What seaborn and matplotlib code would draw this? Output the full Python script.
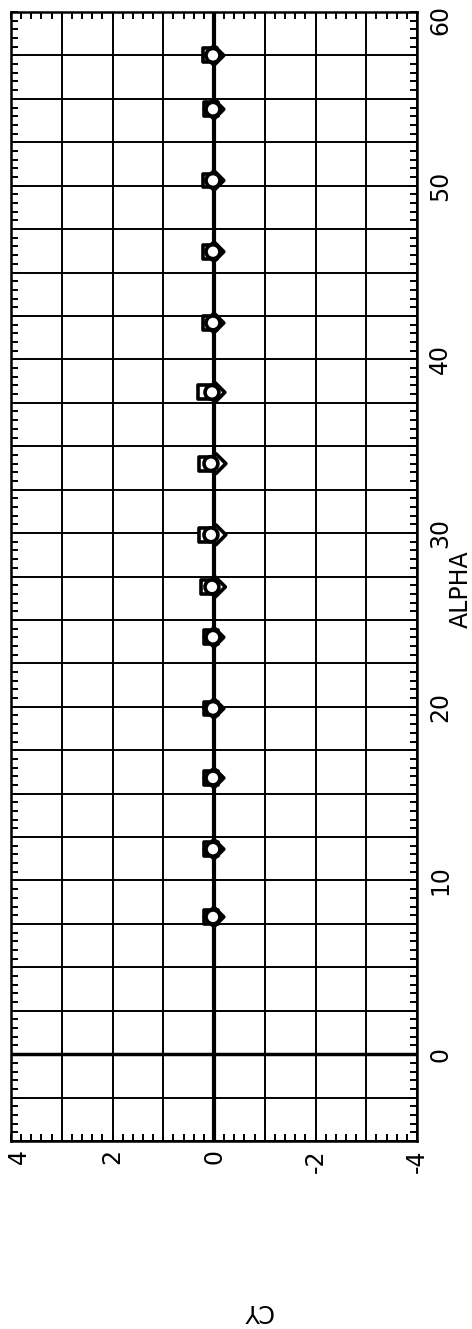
import matplotlib
matplotlib.use('Agg')
import matplotlib.pyplot as plt
import pandas as pd
import seaborn as sns
from matplotlib.ticker import MultipleLocator, FuncFormatter
from matplotlib.transforms import ScaledTranslation

alpha = [7.9, 11.8, 15.9, 19.9, 24.0, 26.9, 29.9, 34.0, 38.1, 42.1, 46.2, 50.3, 54.4, 57.5]
cy_square = [0.06, 0.06, 0.06, 0.06, 0.06, 0.12, 0.16, 0.16, 0.17, 0.08, 0.08, 0.08, 0.06, 0.08]
cy_circle = [0.02, 0.02, 0.02, 0.02, 0.02, 0.04, 0.06, 0.06, 0.04, 0.02, 0.02, 0.02, 0.02, 0.02]
cy_diamond = [0.0, 0.0, 0.0, 0.0, 0.0, -0.03, -0.04, -0.04, -0.02, 0.0, 0.0, 0.0, 0.0, 0.0]

df = pd.concat([
    pd.DataFrame({'ALPHA': alpha, 'CY': cy_diamond, 'series': 'diamond'}),
    pd.DataFrame({'ALPHA': alpha, 'CY': cy_square, 'series': 'square'}),
    pd.DataFrame({'ALPHA': alpha, 'CY': cy_circle, 'series': 'circle'}),
])

sns.set_style('white')
plt.rcParams['font.family'] = ['DejaVu Sans']
plt.rcParams['axes.unicode_minus'] = False
plt.rcParams['text.color'] = 'black'

fig = plt.figure(figsize=(4.72, 13.29), dpi=100)
ax = fig.add_axes([11 / 472, 1 - 1141 / 1329, 406 / 472, 1129 / 1329])

# zero lines (plot is drawn turned on its side)
ax.axvline(0, color='black', lw=3, zorder=2)
ax.axhline(0, color='black', lw=2.5, zorder=2)

sns.scatterplot(data=df, x='CY', y='ALPHA', style='series',
                markers={'square': 's', 'circle': 'o', 'diamond': 'D'},
                color='white', edgecolor='black', linewidth=2.6, s=100,
                legend=False, zorder=3, ax=ax)

ax.set_xlim(4, -4)
ax.set_ylim(-5, 60)
ax.set_xlabel('')
ax.set_ylabel('')

ax.xaxis.set_major_locator(MultipleLocator(1))
ax.xaxis.set_minor_locator(MultipleLocator(0.2))
ax.yaxis.set_major_locator(MultipleLocator(2.5))
ax.yaxis.set_minor_locator(MultipleLocator(0.5))
ax.xaxis.set_major_formatter(FuncFormatter(lambda v, p: '%d' % round(v) if round(v) % 2 == 0 else ''))
ax.yaxis.set_major_formatter(FuncFormatter(lambda v, p: '%d' % round(v) if abs(v % 10) < 1e-6 else ''))

ax.grid(True, which='major', color='black', lw=1.4, zorder=1)
for s in ax.spines.values():
    s.set_color('black')
    s.set_linewidth(1.8)

ax.yaxis.tick_right()
ax.tick_params(which='both', direction='in', top=True, bottom=True, left=True, right=True,
               labelleft=False, labelright=True, labelbottom=True,
               colors='black', labelcolor='black')
ax.tick_params(which='major', length=5, width=1.4, labelsize=17, labelrotation=90)
ax.tick_params(which='minor', length=5, width=1.4)
ax.tick_params(axis='x', pad=6)
ax.tick_params(axis='y', pad=8)

fig.canvas.draw()
for t in ax.get_yticklabels():
    t.set_va('center')
    if t.get_text() == '60':
        # top label sits a little lower so it stays on the page
        t.set_transform(t.get_transform() + ScaledTranslation(0, -6 / 72, fig.dpi_scale_trans))
for t in ax.get_xticklabels():
    if t.get_text() == '4':
        t.set_transform(t.get_transform() + ScaledTranslation(6 / 72, 0, fig.dpi_scale_trans))

fig.text(461 / 472, 1 - 589 / 1329, 'ALPHA', rotation=90, ha='center', va='center', fontsize=17, color='black')
fig.text(257 / 472, 1 - 1311 / 1329, 'CY', rotation=180, ha='center', va='center', fontsize=17, color='black')

fig.savefig('out.png', dpi=100)
